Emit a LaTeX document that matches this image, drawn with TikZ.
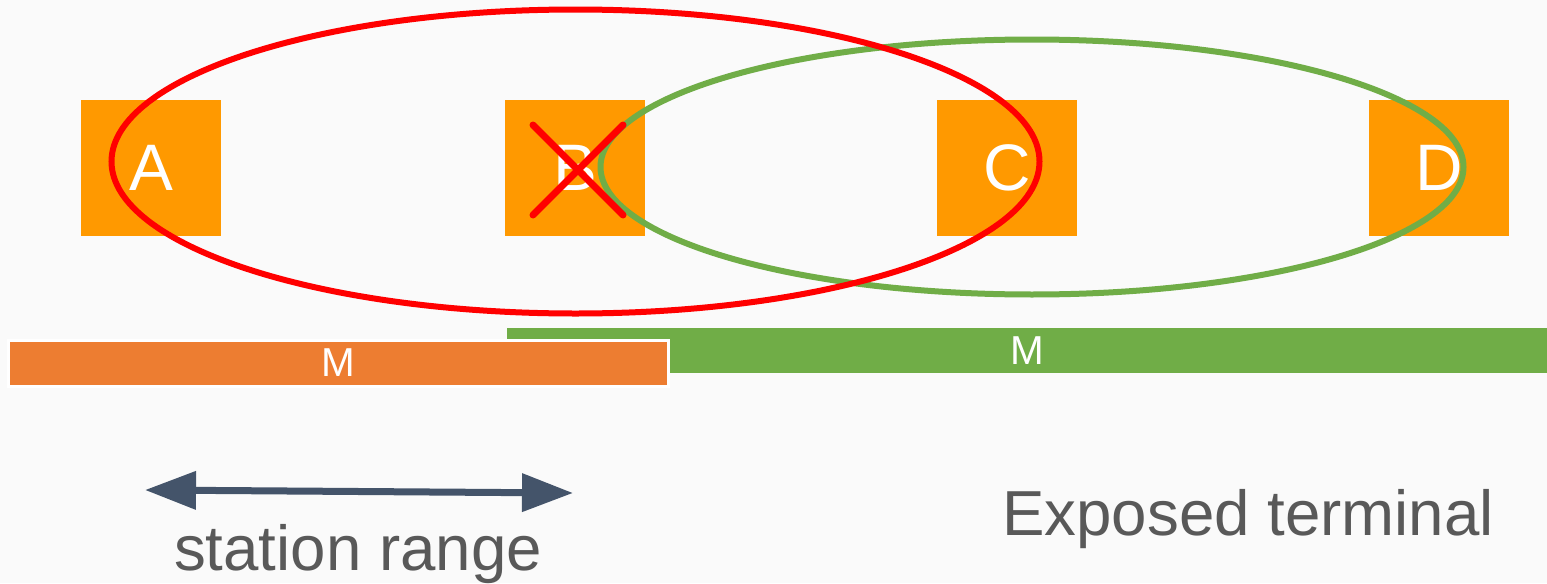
\documentclass[tikz,border=0pt]{standalone}
\usepackage{fontspec}
\setmainfont{Liberation Sans}
\usepackage{tikz}
\usetikzlibrary{arrows.meta}
\usetikzlibrary{positioning}
\definecolor{bggray}{HTML}{FAFAFA}
\definecolor{staorange}{HTML}{FF9900}
\definecolor{barorange}{HTML}{ED7D31}
\definecolor{rangegreen}{HTML}{70AD47}
\definecolor{arrowblue}{HTML}{44546A}
\definecolor{textgray}{HTML}{595959}
\tikzset{sta/.style = {fill = staorange, text = white, inner sep = 0, minimum width = 1.4cm, minimum height = 1.36cm, font = \fontsize{18.7}{22}\selectfont}}
\tikzset{bar/.style = {text = white, inner sep = 0, minimum height = 0.46cm, font = \fontsize{11.5}{13}\selectfont}}
\tikzset{lbl/.style = {text = textgray, anchor = base, inner sep = 0, font = \fontsize{18.1}{21}\selectfont}}

\begin{document}
\begin{tikzpicture}
      \useasboundingbox [fill = bggray] (0, 0) rectangle (15.47, -5.83);

      \node [sta] (a) at (1.51, -1.68) {A};
      \node [sta] (b) at (5.75, -1.68) {B};
      \node [sta] (c) at (10.07, -1.68) {C};
      \node [sta] (d) at (14.39, -1.68) {D};

      \draw [rangegreen, line width = 0.06cm] (10.32, -1.67) ellipse [x radius = 4.315, y radius = 1.275];
      \draw [red, line width = 0.06cm] (5.755, -1.615) ellipse [x radius = 4.64, y radius = 1.52];

      % B is blocked
      \draw [red, line width = 0.07cm, line cap = round] (5.33, -1.25) -- (6.23, -2.15);
      \draw [red, line width = 0.07cm, line cap = round] (5.33, -2.15) -- (6.23, -1.25);

      \node [bar, fill = rangegreen, minimum width = 10.40cm, minimum height = 0.45cm] (mg) at (10.27, -3.505) {M};
      \node [bar, fill = barorange, draw = white, line width = 0.03cm, minimum width = 6.59cm] (mo) at (3.385, -3.63) {M};

      \coordinate (rl) at (1.45, -4.90);
      \coordinate (rr) at (5.73, -4.93);
      \draw [arrowblue, line width = 0.07cm, {Triangle[length = 0.51cm, width = 0.37cm]}-{Triangle[length = 0.51cm, width = 0.37cm]}] (rl) -- (rr);

      \node [lbl] (srange) at (3.58, -5.70) {station range};
      \node [lbl] (exposed) at (12.48, -5.35) {Exposed terminal};
\end{tikzpicture}
\end{document}
